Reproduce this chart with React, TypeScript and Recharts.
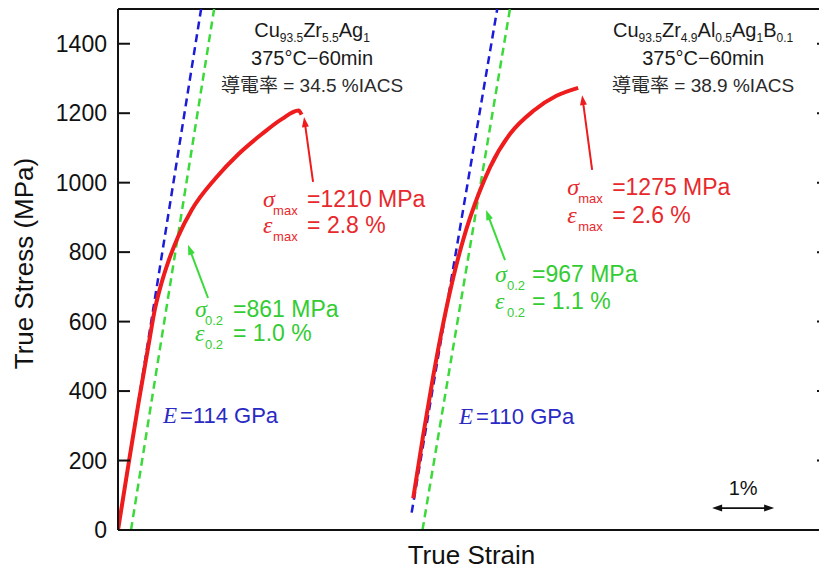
import React from "react";
import {
	Label,
	Line,
	LineChart,
	ReferenceDot,
	ReferenceLine,
	XAxis,
	YAxis,
} from "recharts";

// true strain (%) / true stress (MPa)
const strainA = [0, 0.17, 0.33, 0.49, 0.6, 0.7, 0.81, 0.97, 1.19, 1.57, 1.94, 2.32, 2.64, 2.91, 2.96];
const stressA = [0, 190, 365, 530, 640, 710, 772, 845, 922, 1012, 1082, 1140, 1183, 1208, 1196];
const strainB = [4.76, 4.92, 5.08, 5.25, 5.41, 5.57, 5.81, 6.0, 6.32, 6.7, 7.07, 7.42];
const stressB = [91, 272, 440, 600, 730, 838, 965, 1045, 1140, 1207, 1250, 1273];

// elastic (E) lines and 0.2 % offset lines
const elasticAStrain = [0, 1.34];
const elasticAStress = [0, 1500];
const offsetAStrain = [0.21, 1.55];
const offsetAStress = [0, 1500];
const elasticBStrain = [4.735, 6.115];
const elasticBStress = [50, 1500];
const offsetBStrain = [4.91, 6.32];
const offsetBStress = [0, 1500];

const yTicks = [0, 200, 400, 600, 800, 1000, 1200, 1400];

// annotation values
const maxStress = [1210, 1275];
const maxStrain = ["2.8", "2.6"];
const yieldStress = [861, 967];
const yieldStrain = ["1.0", "1.1"];
const moduli = [114, 110];
const conductivity = ["34.5", "38.9"];
const alloyA = [["Cu", "93.5"], ["Zr", "5.5"], ["Ag", "1"]];
const alloyB = [["Cu", "93.5"], ["Zr", "4.9"], ["Al", "0.5"], ["Ag", "1"], ["B", "0.1"]];

const RED = "#ee1c1c";
const RED_TEXT = "#e8282c";
const BLUE = "#1c1cd8";
const BLUE_TEXT = "#2a2ac4";
const GREEN = "#3ada3a";
const GREEN_TEXT = "#33cc33";
const SANS = "'Liberation Sans', Arial, sans-serif";
const SERIF = "'Liberation Serif', 'Times New Roman', serif";
const CJK = "'Liberation Sans', 'Noto Sans CJK JP', sans-serif";

const pts = (xs: number[], ys: number[]) => xs.map((x, i) => ({ x, y: ys[i] }));
const NoTick = () => <g />;

function ArrowShape(props: any) {
	const { x1, y1, x2, y2, color, both, width = 2 } = props;
	const a = Math.atan2(y2 - y1, x2 - x1);
	const L = 10;
	const W = 3.5;
	const head = (x: number, y: number, ang: number) => {
		const bx = x - L * Math.cos(ang);
		const by = y - L * Math.sin(ang);
		const px = -Math.sin(ang) * W;
		const py = Math.cos(ang) * W;
		return `${x},${y} ${bx + px},${by + py} ${bx - px},${by - py}`;
	};
	const sx = both ? x1 + 8 * Math.cos(a) : x1;
	const sy = both ? y1 + 8 * Math.sin(a) : y1;
	return (
		<g>
			<line
				x1={sx}
				y1={sy}
				x2={x2 - 8 * Math.cos(a)}
				y2={y2 - 8 * Math.sin(a)}
				stroke={color}
				strokeWidth={width}
			/>
			<polygon points={head(x2, y2, a)} fill={color} />
			{both && <polygon points={head(x1, y1, a + Math.PI)} fill={color} />}
		</g>
	);
}

function PropNote(props: any) {
	const { cx, cy, color, sub, stress, strain, subDx, valueDx, gap } = props;
	return (
		<g fill={color} fontFamily={SANS}>
			<text x={cx} y={cy} fontFamily={SERIF} fontStyle="italic" fontSize={24}>
				σ
			</text>
			<text x={cx + subDx} y={cy + 8} fontSize={13}>
				{sub}
			</text>
			<text x={cx + valueDx} y={cy} fontSize={23}>
				={stress} MPa
			</text>
			<text x={cx} y={cy + gap} fontFamily={SERIF} fontStyle="italic" fontSize={24}>
				ε
			</text>
			<text x={cx + subDx} y={cy + gap + 8} fontSize={13}>
				{sub}
			</text>
			<text x={cx + valueDx} y={cy + gap} fontSize={23}>
				= {strain} %
			</text>
		</g>
	);
}

function ModulusNote(props: any) {
	const { cx, cy, value } = props;
	return (
		<g fill={BLUE_TEXT}>
			<text x={cx} y={cy} fontFamily={SERIF} fontStyle="italic" fontSize={23}>
				E
			</text>
			<text x={cx + 17} y={cy} fontFamily={SANS} fontSize={22}>
				={value} GPa
			</text>
		</g>
	);
}

function AlloyBlock(props: any) {
	const { cx, cy, alloy, cond } = props;
	return (
		<g fill="#1a1a1a" fontFamily={SANS} textAnchor="middle">
			<text x={cx} y={cy} fontSize={20}>
				{alloy.map(([el, n]: string[], i: number) => (
					<React.Fragment key={i}>
						<tspan dy={i === 0 ? 0 : -5} fontSize={20}>
							{el}
						</tspan>
						<tspan dy={5} fontSize={12}>
							{n}
						</tspan>
					</React.Fragment>
				))}
			</text>
			<text x={cx} y={cy + 28} fontSize={20}>
				375°C−60min
			</text>
			<text x={cx} y={cy + 55} fontSize={19} fontFamily={CJK} fill="#2a2a2a">
				導電率 = {cond} %IACS
			</text>
		</g>
	);
}

const YTitle = (props: any) => {
	const vb = props.viewBox;
	const cx = vb.x + 16;
	const cy = vb.y + vb.height / 2 - 6;
	return (
		<text
			x={cx}
			y={cy}
			transform={`rotate(-90 ${cx} ${cy})`}
			textAnchor="middle"
			dominantBaseline="central"
			fontSize={26}
			fontFamily={SANS}
			fill="#111"
		>
			True Stress (MPa)
		</text>
	);
};

const XTitle = (props: any) => {
	const vb = props.viewBox;
	return (
		<text
			x={vb.x + vb.width / 2}
			y={vb.y + vb.height - 6}
			textAnchor="middle"
			fontSize={26}
			fontFamily={SANS}
			fill="#111"
		>
			True Strain
		</text>
	);
};

export default function App() {
	const curve = (xs: number[], ys: number[], key: string, color: string, dashed: boolean) => (
		<Line
			key={key}
			data={pts(xs, ys)}
			dataKey="y"
			type={dashed ? "linear" : "monotone"}
			stroke={color}
			strokeWidth={dashed ? 2.5 : 4}
			strokeDasharray={dashed ? "8 5" : undefined}
			dot={false}
			isAnimationActive={false}
		/>
	);

	return (
		<div style={{ fontFamily: SANS }}>
			<LineChart width={819} height={562} margin={{ top: 1, right: 2, bottom: 0, left: 0 }}>
				<XAxis
					dataKey="x"
					type="number"
					domain={[0, 11.4]}
					allowDataOverflow
					tick={false}
					tickLine={false}
					axisLine={{ stroke: "#111", strokeWidth: 2 }}
					height={40}
				>
					<Label content={XTitle} />
				</XAxis>
				<YAxis
					type="number"
					domain={[0, 1500]}
					allowDataOverflow
					ticks={yTicks}
					width={110}
					tickSize={0}
					tickMargin={11}
					tickLine={false}
					axisLine={{ stroke: "#111", strokeWidth: 2 }}
					tick={{ fontSize: 23, fill: "#111", fontFamily: SANS }}
				>
					<Label content={YTitle} />
				</YAxis>
				<YAxis
					yAxisId="leftIn"
					type="number"
					domain={[0, 1500]}
					allowDataOverflow
					ticks={yTicks}
					mirror
					width={12}
					tick={NoTick}
					tickSize={12}
					axisLine={false}
					tickLine={{ stroke: "#111", strokeWidth: 2 }}
				/>
				<YAxis
					yAxisId="rightIn"
					orientation="right"
					type="number"
					domain={[0, 1500]}
					allowDataOverflow
					ticks={yTicks}
					mirror
					width={8}
					tick={NoTick}
					tickSize={8}
					axisLine={{ stroke: "#111", strokeWidth: 2 }}
					tickLine={{ stroke: "#111", strokeWidth: 2 }}
				/>
				<ReferenceLine y={1500} stroke="#111" strokeWidth={2} />

				{curve(elasticAStrain, elasticAStress, "eA", BLUE, true)}
				{curve(offsetAStrain, offsetAStress, "oA", GREEN, true)}
				{curve(elasticBStrain, elasticBStress, "eB", BLUE, true)}
				{curve(offsetBStrain, offsetBStress, "oB", GREEN, true)}
				{curve(strainA, stressA, "cA", RED, false)}
				{curve(strainB, stressB, "cB", RED, false)}

				<ReferenceLine
					segment={[{ x: 3.145, y: 1002 }, { x: 3.0, y: 1189 }]}
					shape={(p: any) => <ArrowShape {...p} color={RED} />}
				/>
				<ReferenceLine
					segment={[{ x: 7.645, y: 1037 }, { x: 7.484, y: 1252 }]}
					shape={(p: any) => <ArrowShape {...p} color={RED} />}
				/>
				<ReferenceLine
					segment={[{ x: 1.452, y: 668 }, { x: 1.129, y: 821 }]}
					shape={(p: any) => <ArrowShape {...p} color={GREEN} />}
				/>
				<ReferenceLine
					segment={[{ x: 6.24, y: 777 }, { x: 5.935, y: 921 }]}
					shape={(p: any) => <ArrowShape {...p} color={GREEN} />}
				/>
				<ReferenceLine
					segment={[{ x: 9.58, y: 63 }, { x: 10.58, y: 63 }]}
					shape={(p: any) => <ArrowShape {...p} color="#111" both width={1.6} />}
				/>

				<ReferenceDot
					x={2.34}
					y={930}
					r={0}
					shape={(p: any) => (
						<PropNote {...p} color={RED_TEXT} sub="max" stress={maxStress[0]} strain={maxStrain[0]} subDx={10} valueDx={44} gap={26} />
					)}
				/>
				<ReferenceDot
					x={7.242}
					y={965}
					r={0}
					shape={(p: any) => (
						<PropNote {...p} color={RED_TEXT} sub="max" stress={maxStress[1]} strain={maxStrain[1]} subDx={11} valueDx={45} gap={28} />
					)}
				/>
				<ReferenceDot
					x={1.242}
					y={613}
					r={0}
					shape={(p: any) => (
						<PropNote {...p} color={GREEN_TEXT} sub="0.2" stress={yieldStress[0]} strain={yieldStrain[0]} subDx={10} valueDx={38} gap={24} />
					)}
				/>
				<ReferenceDot
					x={6.079}
					y={714}
					r={0}
					shape={(p: any) => (
						<PropNote {...p} color={GREEN_TEXT} sub="0.2" stress={yieldStress[1]} strain={yieldStrain[1]} subDx={12} valueDx={37} gap={27} />
					)}
				/>
				<ReferenceDot x={0.726} y={308} r={0} shape={(p: any) => <ModulusNote {...p} value={moduli[0]} />} />
				<ReferenceDot x={5.5} y={305} r={0} shape={(p: any) => <ModulusNote {...p} value={moduli[1]} />} />
				<ReferenceDot
					x={3.129}
					y={1419}
					r={0}
					shape={(p: any) => <AlloyBlock {...p} alloy={alloyA} cond={conductivity[0]} />}
				/>
				<ReferenceDot
					x={9.435}
					y={1419}
					r={0}
					shape={(p: any) => <AlloyBlock {...p} alloy={alloyB} cond={conductivity[1]} />}
				/>
				<ReferenceDot
					x={10.08}
					y={101}
					r={0}
					shape={(p: any) => (
						<text x={p.cx} y={p.cy} textAnchor="middle" fontSize={20} fontFamily={SANS} fill="#111">
							1%
						</text>
					)}
				/>
			</LineChart>
		</div>
	);
}
